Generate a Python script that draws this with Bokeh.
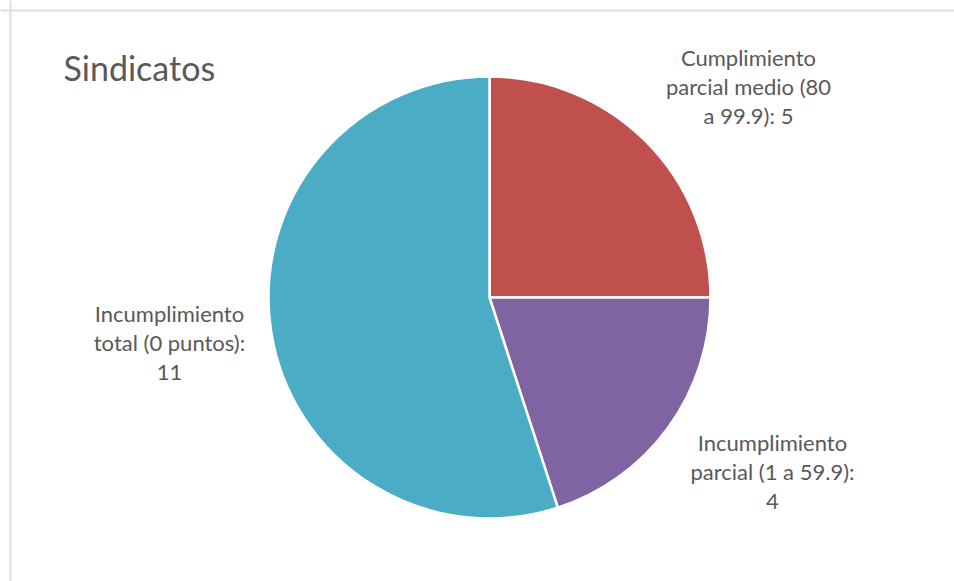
import math
from bokeh.plotting import figure
from bokeh.models import Range1d, Span, ColumnDataSource
from bokeh.core.properties import value
from bokeh.embed import file_html
from bokeh.resources import INLINE

# ---- data ----
title_text = "Sindicatos"
categories = [
    "Cumplimiento parcial medio (80 a 99.9)",
    "Incumplimiento parcial (1 a 59.9)",
    "Incumplimiento total (0 puntos)",
]
values = [5, 4, 11]
label_lines = [
    "Cumplimiento\nparcial medio (80\na 99.9): 5",
    "Incumplimiento\nparcial (1 a 59.9):\n4",
    "Incumplimiento\ntotal (0 puntos):\n11",
]
colors = ["#C0504D", "#8064A2", "#4BACC6"]

# ---- layout (pixel units) ----
W, H = 954, 581
cx, cy, r = 489, H - 297, 221
label_x = [748, 772, 169]
label_y = [H - 86, H - 471, H - 342]

total = sum(values)
starts, ends = [], []
a = math.pi / 2
for v in values:
    starts.append(a)
    a -= 2 * math.pi * v / total
    ends.append(a)

p = figure(width=W, height=H, output_backend="svg", toolbar_location=None,
           x_range=Range1d(0, W), y_range=Range1d(0, H),
           x_axis_location=None, y_axis_location=None, min_border=0)
p.grid.visible = False
p.outline_line_color = None
p.background_fill_color = "white"
p.border_fill_color = "white"

src = ColumnDataSource(dict(cat=categories, val=values, start=starts, end=ends, color=colors))
p.wedge(x=cx, y=cy, radius=r, start_angle="start", end_angle="end", direction="clock",
        fill_color="color", line_color="white", line_width=2.5, source=src)

lsrc = ColumnDataSource(dict(x=label_x, y=label_y, text=label_lines))
p.text(x="x", y="y", text="text", source=lsrc, text_align="center", text_baseline="middle",
       text_font=value("Lato"), text_font_size="22px", text_color="#595959",
       text_line_height=1.08)

p.text(x=[63], y=[H - 67], text=[title_text], text_align="left", text_baseline="middle",
       text_font=value("Lato"), text_font_size="34px", text_color="#595959")

p.add_layout(Span(location=10, dimension="height", line_color="#DDDDDD", line_width=2))
p.add_layout(Span(location=H - 10, dimension="width", line_color="#DDDDDD", line_width=2))

open("out.html", "w").write(file_html(p, INLINE))
